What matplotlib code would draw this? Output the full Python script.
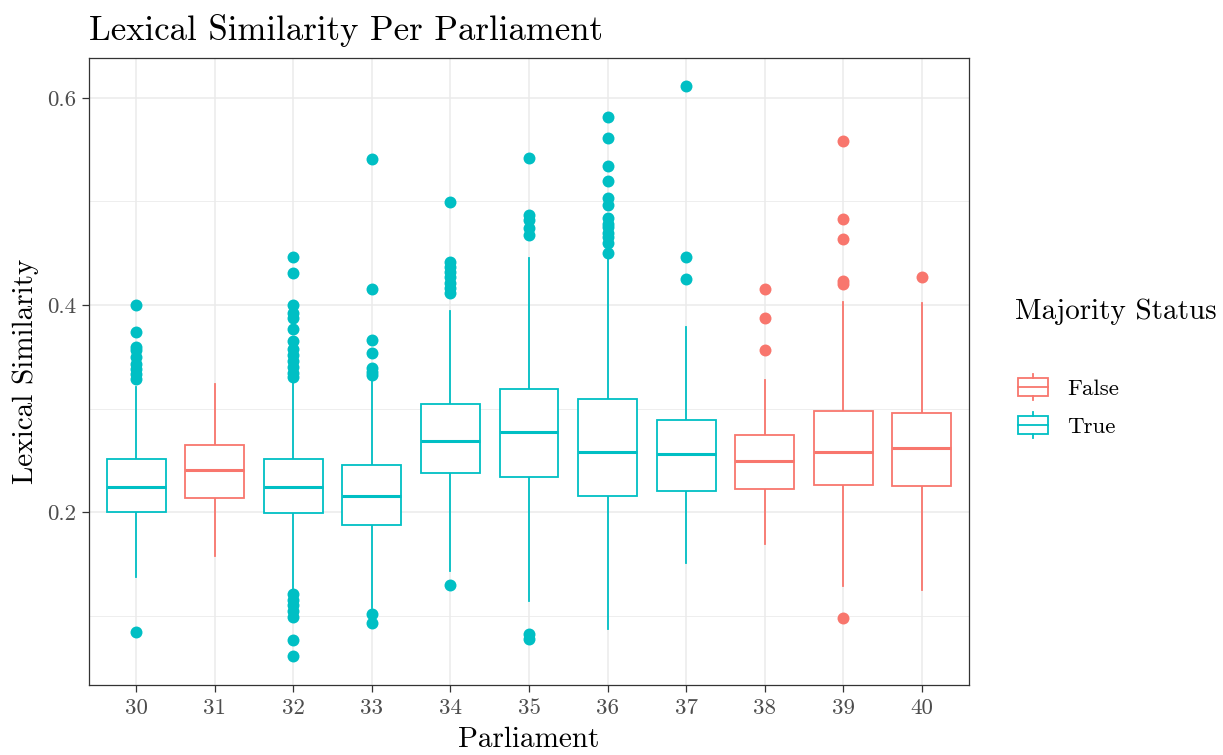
import matplotlib
matplotlib.use('Agg')
import matplotlib.pyplot as plt
from matplotlib.legend_handler import HandlerBase
from matplotlib.lines import Line2D
from matplotlib.patches import Rectangle

plt.rcParams['font.family'] = ['cmr10', 'DejaVu Serif']
plt.rcParams['axes.formatter.use_mathtext'] = True

parliaments = ['30', '31', '32', '33', '34', '35', '36', '37', '38', '39', '40']
majority = [True, False, True, True, True, True, True, True, False, False, False]

q1 = [0.2003, 0.2132, 0.1993, 0.1874, 0.2374, 0.2341, 0.2158, 0.2203, 0.2225, 0.2258, 0.2247]
med = [0.2245, 0.2406, 0.2242, 0.2158, 0.2686, 0.2776, 0.2577, 0.2561, 0.2494, 0.2579, 0.2616]
q3 = [0.2509, 0.2650, 0.2510, 0.2454, 0.3047, 0.3188, 0.3092, 0.2893, 0.2745, 0.2978, 0.2959]
whis_lo = [0.1375, 0.1578, 0.1246, 0.1070, 0.1433, 0.1143, 0.0870, 0.1509, 0.1694, 0.1288, 0.1244]
whis_hi = [0.3210, 0.3237, 0.3259, 0.3275, 0.3942, 0.4451, 0.4460, 0.3786, 0.3273, 0.4030, 0.4018]

outliers = [
    [0.4000, 0.3739, 0.3594, 0.3565, 0.3498, 0.3430, 0.3382, 0.3333, 0.3285, 0.0843],
    [],
    [0.4464, 0.4310, 0.4000, 0.3923, 0.3874, 0.3768, 0.3652, 0.3575, 0.3517, 0.3459,
     0.3400, 0.3343, 0.3304, 0.1208, 0.1150, 0.1101, 0.1043, 0.0986, 0.0763, 0.0609],
    [0.5408, 0.4158, 0.3662, 0.3533, 0.3390, 0.3357, 0.3324, 0.1012, 0.0930],
    [0.4992, 0.4418, 0.4370, 0.4320, 0.4270, 0.4210, 0.4160, 0.4113, 0.1295],
    [0.5417, 0.4870, 0.4820, 0.4741, 0.4676, 0.0821, 0.0770],
    [0.5820, 0.5614, 0.5343, 0.5198, 0.5030, 0.4966, 0.4838, 0.4780, 0.4757, 0.4700,
     0.4660, 0.4596, 0.4500],
    [0.6114, 0.4461, 0.4255],
    [0.4159, 0.3878, 0.3568],
    [0.5583, 0.4830, 0.4642, 0.4229, 0.4205, 0.0974],
    [0.4273],
]

status_labels = ['False', 'True']
colors = {False: '#F8766D', True: '#00BFC4'}

fig = plt.figure(figsize=(12.23, 7.55), dpi=100)
ax = fig.add_axes([89 / 1223, 1 - 685 / 755, 880 / 1223, 627 / 755])

stats = []
for i in range(len(parliaments)):
    stats.append(dict(med=med[i], q1=q1[i], q3=q3[i], whislo=whis_lo[i],
                      whishi=whis_hi[i], fliers=outliers[i], label=parliaments[i]))

pos = list(range(1, len(parliaments) + 1))
bp = ax.bxp(stats, positions=pos, widths=0.75, showcaps=False, patch_artist=True,
            manage_ticks=False)
for i, m in enumerate(majority):
    c = colors[m]
    bp['boxes'][i].set(facecolor='white', edgecolor=c, linewidth=1.3, zorder=3)
    bp['medians'][i].set(color=c, linewidth=2.2, solid_capstyle='butt', zorder=4)
    for w in bp['whiskers'][2 * i:2 * i + 2]:
        w.set(color=c, linewidth=1.3, zorder=2)
    bp['fliers'][i].set(marker='o', markerfacecolor=c, markeredgecolor='none',
                        markersize=8.6, zorder=5)

ax.set_xlim(0.4, 11.6)
ax.set_ylim(0.0329, 0.6386)
ax.set_xticks(pos)
ax.set_xticklabels(parliaments)
ax.set_yticks([0.2, 0.4, 0.6])
ax.set_yticklabels(['0.2', '0.4', '0.6'])
ax.set_yticks([0.1, 0.3, 0.5], minor=True)
ax.grid(True, which='major', color='#EBEBEB', linewidth=1.1, zorder=0)
ax.grid(True, which='minor', axis='y', color='#EBEBEB', linewidth=0.6, zorder=0)
ax.set_axisbelow(True)
ax.tick_params(axis='both', which='major', length=5, width=0.9, color='#333333',
               labelcolor='#4D4D4D', labelsize=16.5)
ax.tick_params(axis='x', which='major', pad=5)
ax.tick_params(axis='y', which='major', pad=4)
ax.tick_params(axis='y', which='minor', length=0)
for s in ax.spines.values():
    s.set_color('#333333')
    s.set_linewidth(0.9)

ax.set_xlabel('Parliament', fontsize=21, labelpad=6)
ax.set_ylabel('Lexical Similarity', fontsize=21, labelpad=6)
ax.set_title('Lexical Similarity Per Parliament', loc='left', fontsize=25, pad=13)


class BoxKey(HandlerBase):
    def create_artists(self, legend, orig_handle, xdescent, ydescent, width, height,
                       fontsize, trans):
        c = orig_handle.get_color()
        x0 = -xdescent
        y0 = -ydescent
        bw = width
        bh = height * 0.66
        by = y0 + (height - bh) / 2
        xm = x0 + bw / 2
        rect = Rectangle((x0, by), bw, bh, facecolor='white', edgecolor=c,
                         linewidth=1.3, transform=trans)
        mid = Line2D([x0, x0 + bw], [by + bh / 2] * 2, color=c, linewidth=1.3,
                     transform=trans)
        up = Line2D([xm, xm], [by + bh, y0 + height], color=c, linewidth=1.3,
                    transform=trans)
        lo = Line2D([xm, xm], [y0, by], color=c, linewidth=1.3, transform=trans)
        return [rect, mid, up, lo]


handles = [Line2D([], [], color=colors[False]), Line2D([], [], color=colors[True])]
fig.text(1015 / 1223, 1 - 312 / 755, 'Majority Status', fontsize=21, va='center',
         ha='left')
fig.legend(handles, status_labels, handler_map={Line2D: BoxKey()},
           loc='upper left', bbox_to_anchor=(1018 / 1223, 1 - 374 / 755),
           frameon=False, fontsize=16.5, handlelength=1.31, handleheight=1.4,
           handletextpad=0.83, labelspacing=0.5, borderpad=0, borderaxespad=0)

fig.savefig('out.png', dpi=100)
